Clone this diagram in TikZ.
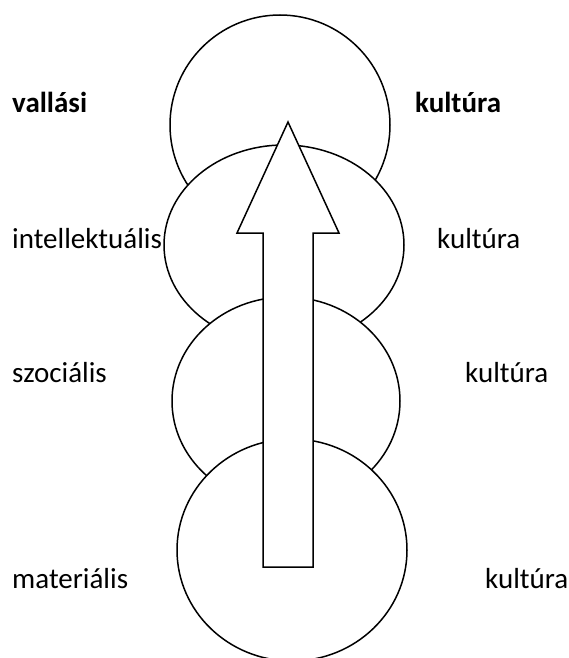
\documentclass[tikz,border=0pt]{standalone}
\usepackage{fontspec}
\setmainfont{Carlito}
\begin{document}
\begin{tikzpicture}[x=1pt,y=-1pt,
  ring/.style={draw=black,fill=white,line width=1.5pt},
  lbl/.style={anchor=base west,inner sep=0pt,font=\fontsize{29}{34}\selectfont},
  lblb/.style={lbl,font=\fontsize{29}{34}\selectfont\bfseries}]
\useasboundingbox (0,0) rectangle (569,658);
% circles, top to bottom
\draw[ring] (280,125) ellipse [x radius=110pt, y radius=110pt];
\draw[ring] (284,245) ellipse [x radius=120pt, y radius=100pt];
\draw[ring] (286,401) ellipse [x radius=114pt, y radius=104pt];
\draw[ring] (292,550) ellipse [x radius=115pt, y radius=111pt];
% arrow
\draw[ring,line join=miter] (288,122) -- (339,233) -- (313,233) -- (313,567)
  -- (263,567) -- (263,233) -- (237,233) -- cycle;
% labels
\node[lblb] (l1) at (12,113) {vallási};
\node[lblb] (r1) at (415,113) {kultúra};
\node[lbl] (l2) at (12,248) {intellektuális};
\node[lbl] (r2) at (437,248) {kultúra};
\node[lbl] (l3) at (12,382) {szociális};
\node[lbl] (r3) at (465,382) {kultúra};
\node[lbl] (l4) at (12,588) {materiális};
\node[lbl] (r4) at (485,588) {kultúra};
\end{tikzpicture}
\end{document}
